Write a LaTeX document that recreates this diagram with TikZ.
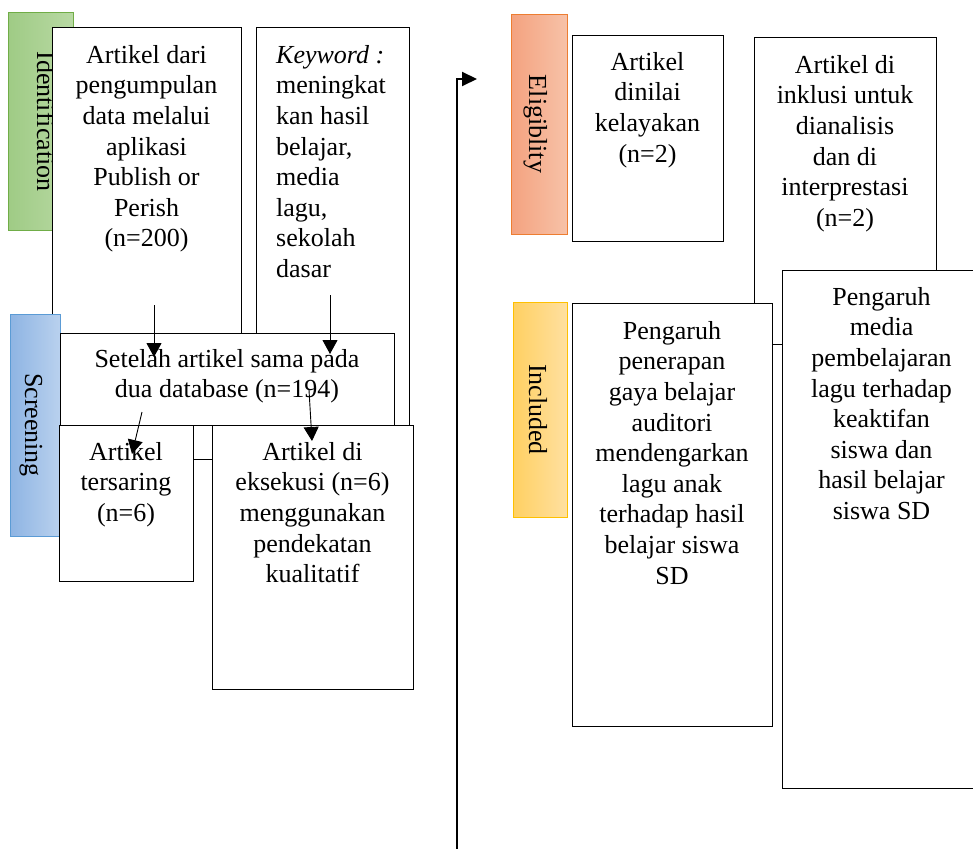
\documentclass[tikz,border=0pt]{standalone}
\usepackage{fontspec}
\setmainfont{Liberation Serif}
\usetikzlibrary{arrows.meta}
\definecolor{idB}{HTML}{70AD47}
\definecolor{idL}{HTML}{9FCB85}
\definecolor{idR}{HTML}{B8D9A3}
\definecolor{scB}{HTML}{5B9BD5}
\definecolor{scL}{HTML}{8EB4E3}
\definecolor{scR}{HTML}{B9D1EE}
\definecolor{elB}{HTML}{ED7D31}
\definecolor{elL}{HTML}{F4A27F}
\definecolor{elR}{HTML}{F7C2A8}
\definecolor{inB}{HTML}{FFC000}
\definecolor{inL}{HTML}{FFD062}
\definecolor{inR}{HTML}{FFE0A0}
\begin{document}
\begin{tikzpicture}[x=1pt,y=-1pt,
  box/.style={draw=black, line width=0.9pt, fill=white, inner sep=0pt, outer sep=0pt, anchor=north west},
  txt/.style={inner sep=0pt, font=\fontsize{26}{30.6}\selectfont, align=center, anchor=north},
  side/.style={line width=1pt, inner sep=0pt, outer sep=0pt, anchor=north west},
  sidetxt/.style={inner sep=0pt, rotate=-90, anchor=base, font=\fontsize{26}{30.6}\selectfont},
  arr/.style={line width=0.9pt, -{Triangle[length=14pt,width=15pt]}},
  bigarr/.style={line width=2pt, -{Triangle[length=15pt,width=14pt]}}
]
\useasboundingbox (0,0) rectangle (973,848);
\fill[white] (0,0) rectangle (973,848);

% Identification
\node[side, draw=idB, left color=idL, right color=idR, minimum width=65pt, minimum height=217pt] (ident) at (8,13) {};
\node[sidetxt] (identt) at (37,121.5) {Identification};

\node[box, minimum width=189pt, minimum height=432pt] (boxA) at (52,27) {};
\node[txt] (boxAt) at (146.5,41.6) {\strut Artikel dari\\pengumpulan\\data melalui\\aplikasi\\Publish or\\Perish\\(n=200)};

\node[box, minimum width=153pt, minimum height=432pt] (kw) at (256,27) {};
\node[txt, align=left, anchor=north west] (kwt) at (276,41.6) {\strut\textit{Keyword :}\\meningkat\\kan hasil\\belajar,\\media\\lagu,\\sekolah\\dasar};

% Screening
\node[side, draw=scB, left color=scL, right color=scR, minimum width=50pt, minimum height=222pt] (scr) at (10,314) {};
\node[sidetxt] (scrt) at (25,425) {Screening};

\node[box, minimum width=334pt, minimum height=92pt] (set) at (60,333) {};
\node[txt] (sett) at (227,345.6) {\strut Setelah artikel sama pada\\dua database (n=194)};

\node[box, minimum width=134pt, minimum height=156pt] (ter) at (59,425) {};
\node[txt] (tert) at (126,438.6) {\strut Artikel\\tersaring\\(n=6)};

\node[box, minimum width=201pt, minimum height=264pt] (eks) at (212,425) {};
\node[txt] (ekst) at (312.5,438.6) {\strut Artikel di\\eksekusi (n=6)\\menggunakan\\pendekatan\\kualitatif};

% arrows left
\coordinate (a1s) at (154,305); \coordinate (a1e) at (154,357);
\coordinate (a2s) at (330,295); \coordinate (a2e) at (330,354);
\coordinate (a3s) at (142,412); \coordinate (a3e) at (132,454);
\coordinate (a4s) at (309,390); \coordinate (a4e) at (312,441);
\draw[arr] (a1s) -- (a1e);
\draw[arr] (a2s) -- (a2e);
\draw[arr] (a3s) -- (a3e);
\draw[arr] (a4s) -- (a4e);

% Right side
\node[side, draw=elB, left color=elL, right color=elR, minimum width=56pt, minimum height=219pt] (eli) at (511,15) {};
\node[sidetxt] (elit) at (529,124) {Eligiblity};
\node[box, minimum width=151pt, minimum height=206pt] (din) at (572,35) {};
\node[txt] (dint) at (647.5,48.6) {\strut Artikel\\dinilai\\kelayakan\\(n=2)};
\node[box, minimum width=182pt, minimum height=307pt] (ink) at (754,37) {};
\node[txt] (inkt) at (845,51.6) {\strut Artikel di\\inklusi untuk\\dianalisis\\dan di\\interprestasi\\(n=2)};

\node[side, draw=inB, left color=inL, right color=inR, minimum width=54pt, minimum height=215pt] (inc) at (513,302) {};
\node[sidetxt] (inct) at (529,409.5) {Included};
\node[box, minimum width=200pt, minimum height=423pt] (pp) at (572,303) {};
\node[txt] (ppt) at (672,317.6) {\strut Pengaruh\\penerapan\\gaya belajar\\auditori\\mendengarkan\\lagu anak\\terhadap hasil\\belajar siswa\\SD};
\node[box, minimum width=199pt, minimum height=518pt] (pm) at (782,270) {};
\node[txt] (pmt) at (881.5,283.6) {\strut Pengaruh\\media\\pembelajaran\\lagu terhadap\\keaktifan\\siswa dan\\hasil belajar\\siswa SD};

% long arrow
\coordinate (ls) at (457,852);
\coordinate (le) at (477,79);
\draw[bigarr] (ls) |- (le);
\end{tikzpicture}
\end{document}
